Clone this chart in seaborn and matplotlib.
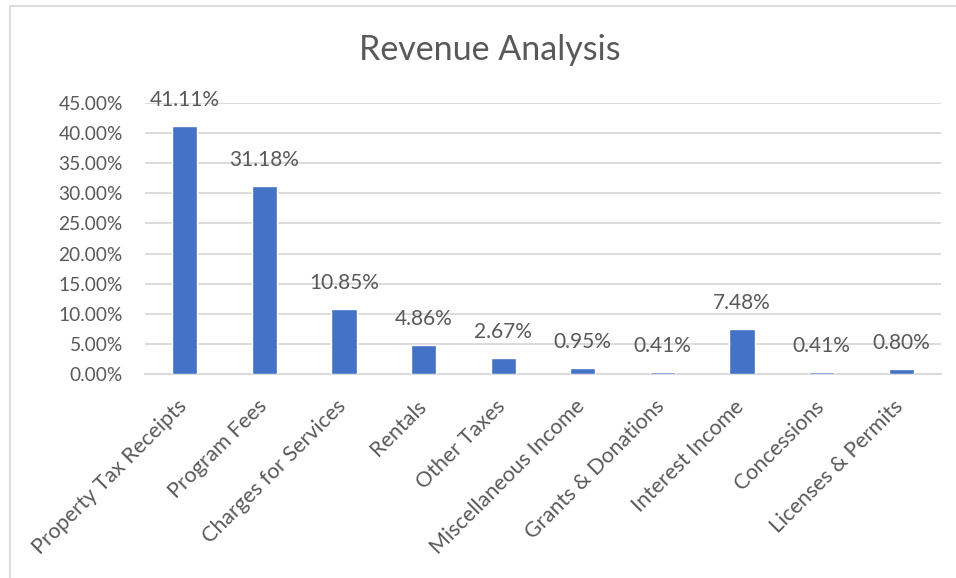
import matplotlib
matplotlib.use("Agg")
import matplotlib.pyplot as plt
import matplotlib.transforms as mtransforms
import seaborn as sns
import pandas as pd
from matplotlib.lines import Line2D
from matplotlib.ticker import FuncFormatter

categories = ["Property Tax Receipts", "Program Fees", "Charges for Services", "Rentals",
              "Other Taxes", "Miscellaneous Income", "Grants & Donations", "Interest Income",
              "Concessions", "Licenses & Permits"]
shares = [41.11, 31.18, 10.85, 4.86, 2.67, 0.95, 0.41, 7.48, 0.41, 0.80]
y_ticks = [0, 5, 10, 15, 20, 25, 30, 35, 40, 45]

sns.set_style("white")
plt.rcParams['font.family'] = ['Lato', 'DejaVu Sans']

text_col = "#595959"
grid_col = "#D9D9D9"
bar_col = "#4472C4"

df = pd.DataFrame({"category": categories, "share": shares})

fig = plt.figure(figsize=(9.56, 5.78), dpi=100)
ax = fig.add_axes([145 / 956, 1 - 374 / 578, (941 - 145) / 956, (374 - 103) / 578])

sns.barplot(data=df, x="category", y="share", color=bar_col, width=0.315,
            saturation=1, ax=ax, zorder=3)

ax.set_xlim(-0.5, len(categories) - 0.5)
ax.set_ylim(0, 45)
ax.set_yticks(y_ticks)
ax.yaxis.set_major_formatter(FuncFormatter(lambda v, p: f"{v:.2f}%"))
ax.grid(axis="y", color=grid_col, linewidth=1.3, zorder=0)
ax.grid(axis="x", visible=False)
for s in ["top", "right", "left"]:
    ax.spines[s].set_visible(False)
ax.spines["bottom"].set_color(grid_col)
ax.spines["bottom"].set_linewidth(1.3)
ax.tick_params(axis="y", length=0, labelsize=13.8, labelcolor=text_col, pad=16)
ax.tick_params(axis="x", length=0, labelsize=15.5, labelcolor=text_col, pad=16)
ax.set_xlabel("")
ax.set_ylabel("")
shift = mtransforms.ScaledTranslation(-8 / 100, 0, fig.dpi_scale_trans)
for lbl in ax.get_xticklabels():
    lbl.set_rotation(45)
    lbl.set_ha("right")
    lbl.set_va("top")
    lbl.set_rotation_mode("anchor")
    lbl.set_transform(lbl.get_transform() + shift)

for i, v in enumerate(shares):
    ax.annotate(f"{v:.2f}%", (i, v), xytext=(0, 26), textcoords="offset pixels",
                ha="center", va="center", fontsize=15, color=text_col)

fig.text(490 / 956, 1 - 50 / 578, "Revenue Analysis", ha="center", va="center",
         fontsize=24.5, color=text_col)

# chart border (only top and left show in the reference)
fig.add_artist(Line2D([10 / 956, 1], [1 - 5.5 / 578, 1 - 5.5 / 578],
                      transform=fig.transFigure, color=grid_col, linewidth=1.3))
fig.add_artist(Line2D([10 / 956, 10 / 956], [0, 1 - 5.5 / 578],
                      transform=fig.transFigure, color=grid_col, linewidth=1.3))

fig.savefig("out.png", dpi=100)
